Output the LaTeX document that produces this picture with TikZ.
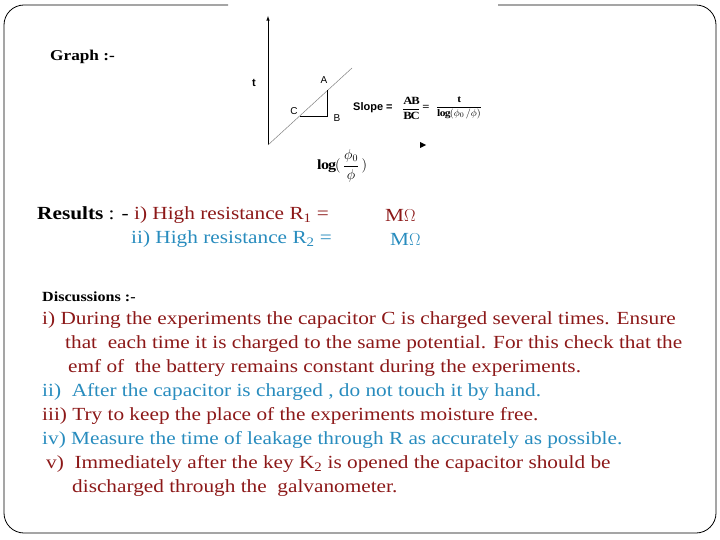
\documentclass[tikz,border=0pt]{standalone}
\usepackage{fontspec}
\setmainfont{Liberation Serif}[FakeStretch=1.15]
\setsansfont{Liberation Sans}
\begin{document}
\begin{tikzpicture}[x=1pt,y=-1pt,
  txt/.style={anchor=west,inner sep=0pt,font=\fontsize{18.5}{18.5}\selectfont},
  lbl/.style={inner sep=0pt,font=\sffamily\fontsize{10}{10}\selectfont}]
\definecolor{dred}{RGB}{140,24,24}
\definecolor{dblue}{RGB}{40,140,190}
\useasboundingbox (0,0) rectangle (720,540);
% frame with top gap
\draw[line width=0.8pt,rounded corners=20pt] (228,5) -- (4,5) -- (4,533) -- (716,533) -- (716,5) -- (498,5);
% graph
\node[txt,font=\bfseries\fontsize{15}{15}\selectfont] (g) at (50,57) {Graph :-};
\coordinate (O) at (268,145);
\coordinate (T) at (268,16);
\draw[line width=0.6pt,-{latex}] (O) -- (T);
\coordinate (E) at (352,68);
\draw[gray,line width=0.5pt] (O) -- (E);
\coordinate (C) at (300,116);
\coordinate (B) at (327,116);
\coordinate (A) at (327,90);
\draw[line width=0.5pt] (C) -- (B) -- (A);
\node[lbl,font=\sffamily\bfseries\fontsize{11}{11}\selectfont] (t) at (254,83) {t};
\node[lbl] (la) at (324,80) {A};
\node[lbl] (lc) at (294,111) {C};
\node[lbl] (lb) at (337,118) {B};
\node[lbl,anchor=west,font=\sffamily\fontsize{11}{11}\selectfont] (sl) at (353,108) {\textbf{Slope =}};
\node[inner sep=0pt,font=\fontsize{11}{11}\selectfont\bfseries] (f1) at (411,108) {$\displaystyle\frac{\mathbf{AB}}{\mathbf{BC}}$};
\node[inner sep=0pt,font=\fontsize{11}{11}\selectfont\bfseries] (eq) at (426,108) {=};
\node[inner sep=0pt,font=\fontsize{10}{10}\selectfont] (f2) at (459,108) {$\displaystyle\frac{\mathbf{t}}{\mathbf{log}(\phi_0\,/\phi)}$};
\fill (420,142) -- (426,145) -- (420,148) -- cycle;
\node[inner sep=0pt,font=\fontsize{14}{14}\selectfont,anchor=west] (lg) at (317,166) {$\displaystyle\mathbf{log}(\,\frac{\phi_0}{\phi}\,)$};
% results
\node[txt] (r) at (37,215) {\textbf{Results} : - \textcolor{dred}{i) High resistance R\textsubscript{1} =}};
\node[txt,text=dred] (m1) at (385,215) {M$\Omega$};
\node[txt,text=dblue] (r2) at (131,239) {ii) High resistance R\textsubscript{2} =};
\node[txt,text=dblue] (m2) at (390,239) {M$\Omega$};
% discussions
\node[txt,font=\bfseries\fontsize{14}{14}\selectfont] (d) at (42,297) {Discussions :-};
\node[txt,text=dred] (d1) at (42,320) {i) During the experiments the capacitor C is charged several times. Ensure};
\node[txt,text=dred] (d2) at (65,344) {that \ each time it is charged to the same potential. For this check that the};
\node[txt,text=dred] (d3) at (68,368) {emf of \ the battery remains constant during the experiments.};
\node[txt,text=dblue] (d4) at (42,392) {ii) \ After the capacitor is charged , do not touch it by hand.};
\node[txt,text=dred] (d5) at (42,416) {iii) Try to keep the place of the experiments moisture free.};
\node[txt,text=dblue] (d6) at (42,440) {iv) Measure the time of leakage through R as accurately as possible.};
\node[txt,text=dred] (d7) at (46,464) {v) \ Immediately after the key K\textsubscript{2} is opened the capacitor should be};
\node[txt,text=dred] (d8) at (72,488) {discharged through the \ galvanometer.};
\end{tikzpicture}
\end{document}
